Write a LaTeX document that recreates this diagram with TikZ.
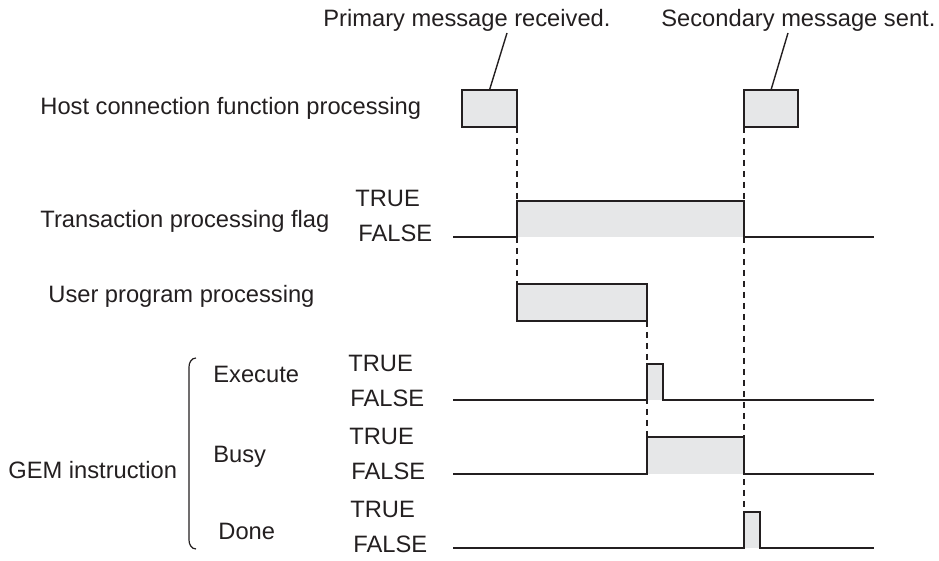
\documentclass[tikz,border=0pt]{standalone}
\usepackage{fontspec}
\setmainfont{Liberation Sans}
\definecolor{pulsegray}{HTML}{E6E7E8}
\definecolor{inkdark}{HTML}{231F20}
\tikzset{
  lbl/.style={anchor=base west, inner sep=0pt, text=inkdark,
    font=\fontsize{11.85}{14}\selectfont},
  procbox/.style={draw=inkdark, line width=1pt, fill=pulsegray, anchor=north west,
    minimum height=18.5pt, inner sep=0pt, outer sep=0pt},
  signal/.style={draw=inkdark, line width=1pt},
  guide/.style={draw=inkdark, line width=1pt, dash pattern=on 3pt off 2.5pt},
  leader/.style={draw=inkdark, line width=0.7pt},
}
\begin{document}
\begin{tikzpicture}[x=0.5pt, y=-0.5pt]
  \useasboundingbox (0,0) rectangle (939,561);

  % names of the signals
  \node[lbl] (host) at (40,115) {Host connection function processing};
  \node[lbl] (trans) at (40,228) {Transaction processing flag};
  \node[lbl] (userlbl) at (48,303) {User program processing};
  \node[lbl] (gem) at (8,479) {GEM instruction};
  \node[lbl] (exec) at (213,383) {Execute};
  \node[lbl] (busy) at (213,463) {Busy};
  \node[lbl] (done) at (218,540) {Done};
  \foreach \n/\x/\y/\t in {t1/355/207/TRUE, f1/358/242/FALSE,
      t2/348/372/TRUE, f2/350/407/FALSE, t3/349/445/TRUE, f3/351/480/FALSE,
      t4/350/518/TRUE, f4/353/553/FALSE} {
    \node[lbl] (\n) at (\x,\y) {\t};
  }
  \draw[leader, line width=0.6pt] (196,358) to[out=180,in=90] (189,367) -- (189,540)
    to[out=-90,in=180] (196,549);

  % processing boxes
  \node[procbox, minimum width=27.5pt] (rcv) at (462,90) {};
  \node[procbox, minimum width=27pt] (snd) at (744,90) {};
  \node[procbox, minimum width=65pt] (user) at (517,284) {};

  % TRUE/FALSE traces
  \foreach \lo/\hi/\up/\dn [count=\i] in {237/201/517/744, 400/364/647/663,
      474/437/647/744, 548/512/744/760} {
    \fill[pulsegray] (\up,\lo) rectangle (\dn,\hi);
    \draw[signal] (453,\lo) -- (\up,\lo) -- (\up,\hi) coordinate (top\i)
      -- (\dn,\hi) -- (\dn,\lo) -- (874,\lo);
  }

  % timing guides
  \draw[guide] (rcv.south east) -- (user.north west);
  \draw[guide] (user.south east) -- (top3);
  \draw[guide] (snd.south west) -- (top4);

  % message notes
  \node[lbl] (prim) at (323,27) {Primary message received.};
  \node[lbl] (sec) at (661,27) {Secondary message sent.};
  \coordinate (primfoot) at (507,33);
  \coordinate (secfoot) at (788,33);
  \draw[leader] (primfoot) -- (rcv.north);
  \draw[leader] (secfoot) -- (snd.north);
\end{tikzpicture}
\end{document}
